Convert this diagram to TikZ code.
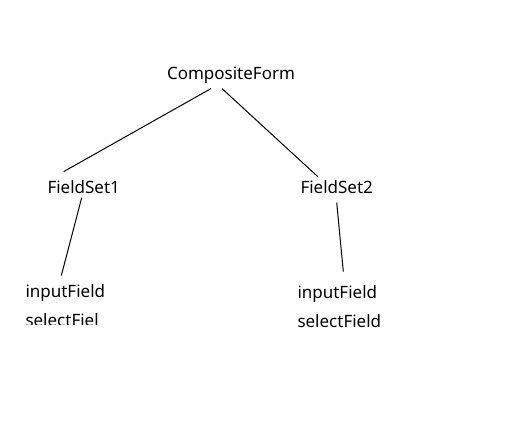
\documentclass[tikz,border=0pt]{standalone}
\usepackage{fontspec}
\setmainfont{Noto Sans}
\usepackage{tikz}

\begin{document}
\begin{tikzpicture}[x=1pt, y=-1pt, line width=1pt,
    lbl/.style={font=\fontsize{17}{20}\selectfont, inner sep=0pt}]
    % page, 526 x 426 px, y grows down
    \useasboundingbox (0, 0) rectangle (526, 426);
    \node[lbl, anchor=base] (cf) at (231, 79) {CompositeForm};
    \node[lbl, anchor=base west] (fs1) at (47, 193) {FieldSet1};
    \node[lbl, anchor=base west] (fs2) at (300, 193) {FieldSet2};
    \node[lbl, anchor=base west] (in1) at (25, 297) {inputField};
    \node[lbl, anchor=base west] (in2) at (297, 298) {inputField};
    \node[lbl, anchor=base west] (sel2) at (297, 327) {selectField};
    % left one is cut off at the bottom
    \begin{scope}
      \clip (0, 300) rectangle (200, 324);
      \node[lbl, anchor=base west] (sel1) at (25, 326) {selectFiel};
    \end{scope}
    \draw ([shift={(-20, 5)}]cf.south) -- ([shift={(-20, -8)}]fs1.north);
    \draw ([shift={(-9, 5)}]cf.south) -- ([shift={(-19, -3)}]fs2.north);
    \draw ([shift={(-2, 4)}]fs1.south) -- ([shift={(-4, -8)}]in1.north);
    \draw ([shift={(0, 9)}]fs2.south) -- ([shift={(6, -13)}]in2.north);
\end{tikzpicture}
\end{document}
